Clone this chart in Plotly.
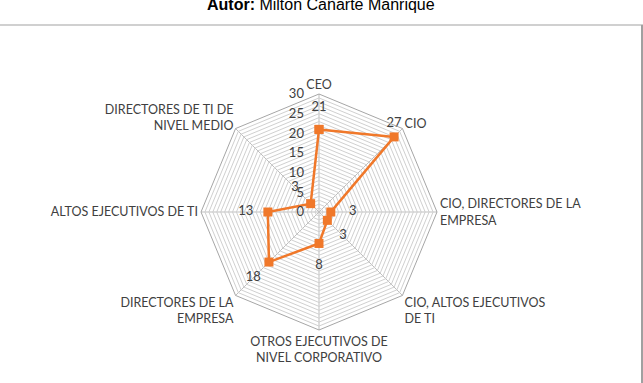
import plotly.graph_objects as go

categories = ["CEO", "CIO", "CIO, DIRECTORES DE LA<br>EMPRESA", "CIO, ALTOS EJECUTIVOS<br>DE TI",
              "OTROS EJECUTIVOS DE<br>NIVEL CORPORATIVO", "DIRECTORES DE LA<br>EMPRESA",
              "ALTOS EJECUTIVOS DE TI", "DIRECTORES DE TI DE<br>NIVEL MEDIO"]
values = [21, 27, 3, 3, 8, 18, 13, 3]
radial_ticks = list(range(0, 31))
radial_labels = [str(v) if v % 5 == 0 else "" for v in radial_ticks]

W, H = 643, 383
cx, cy, R = 319, 212, 118
rmax = 30
label_offset = 5.6  # radial units outward for data labels

orange = "#F0782A"
font_fam = "Lato, 'Open Sans', sans-serif"

inside = [v + label_offset <= rmax for v in values]

fig = go.Figure()
fig.add_trace(go.Scatterpolar(
    r=values + [values[0]], theta=categories + [categories[0]],
    mode="lines+markers+text",
    text=[("" if ok else str(v)) for v, ok in zip(values, inside)] + [""],
    textposition="top center",
    textfont=dict(family=font_fam, size=13, color="#404040"),
    line=dict(color=orange, width=2.5),
    marker=dict(symbol="square", size=9, color=orange),
    cliponaxis=False,
    hoverinfo="skip", showlegend=False,
))
fig.add_trace(go.Scatterpolar(
    r=[v + label_offset for v, ok in zip(values, inside) if ok],
    theta=[c for c, ok in zip(categories, inside) if ok],
    mode="text", text=[str(v) for v, ok in zip(values, inside) if ok],
    textfont=dict(family=font_fam, size=13, color="#404040"),
    textposition="middle center", cliponaxis=False,
    hoverinfo="skip", showlegend=False,
))

fig.update_layout(
    width=W, height=H,
    margin=dict(l=0, r=0, t=0, b=0),
    paper_bgcolor="white", plot_bgcolor="white",
    polar=dict(
        domain=dict(x=[(cx - R) / W, (cx + R) / W], y=[(H - cy - R) / H, (H - cy + R) / H]),
        gridshape="linear",
        bgcolor="white",
        radialaxis=dict(
            range=[0, rmax], tickvals=radial_ticks, ticktext=radial_labels,
            angle=90, tickangle=90, side="counterclockwise",
            showline=False, ticks="outside", ticklen=10, tickcolor="rgba(0,0,0,0)",
            gridcolor="#d0d0d0", gridwidth=0.8,
            tickfont=dict(family=font_fam, size=13, color="#404040"),
        ),
        angularaxis=dict(
            direction="clockwise", rotation=90,
            showline=True, linecolor="#a6a6a6", linewidth=1,
            gridcolor="#bfbfbf", gridwidth=1, ticks="",
            tickfont=dict(family=font_fam, size=12.5, color="#404040"),
        ),
    ),
    annotations=[dict(
        text="<b>Autor:</b> Milton Cañarte Manrique",
        xref="paper", yref="paper", x=321 / W, y=1 - 4.5 / H,
        xanchor="center", yanchor="middle", showarrow=False,
        font=dict(family="'Liberation Sans', Arial, sans-serif", size=16, color="black"),
    )],
    shapes=[
        dict(type="line", xref="paper", yref="paper", x0=0, x1=1, y0=1 - 25 / H, y1=1 - 25 / H,
             line=dict(color="#d0d0d0", width=2)),
        dict(type="line", xref="paper", yref="paper", x0=1 - 1 / W, x1=1 - 1 / W, y0=0, y1=1 - 25 / H,
             line=dict(color="#a0a0a0", width=2)),
    ],
)

fig.write_html("out.html")
